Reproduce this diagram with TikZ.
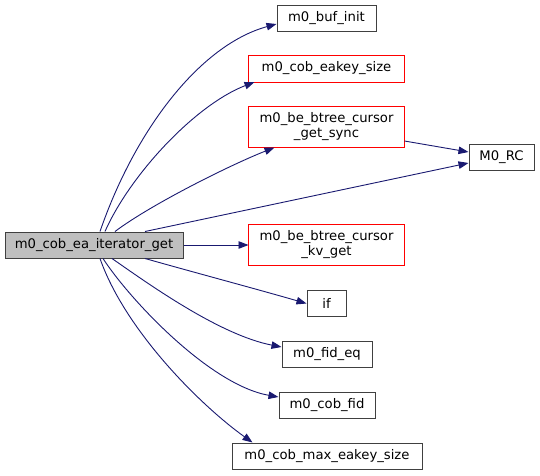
\documentclass[tikz,border=0pt]{standalone}
\usepackage{fontspec}
\setmainfont{DejaVu Sans}
\usetikzlibrary{arrows.meta}
\definecolor{edgeblue}{HTML}{191970}
\definecolor{boxred}{HTML}{FF0000}
\definecolor{boxgray}{HTML}{404040}
\definecolor{mainfill}{HTML}{BFBFBF}
\tikzset{
  fn/.style={draw=boxgray, line width=1pt, fill=white, inner sep=0pt, minimum height=26pt,
     font=\fontsize{13.2pt}{15pt}\selectfont, align=center},
  fnred/.style={fn, draw=none},
  redframe/.style={draw=boxred, line width=1pt},
  fnmain/.style={fn, fill=mainfill},
  call/.style={draw=edgeblue, line width=0.9pt, -{Triangle[length=10pt,width=7.5pt]}}
}
\begin{document}
\begin{tikzpicture}[x=1pt,y=-1pt]
\useasboundingbox (0,0) rectangle (540,475);
\node[fnmain, minimum width=178pt] (main) at (94,245) {m0\_cob\_ea\_iterator\_get};
\node[fn, minimum width=99pt] (bufinit) at (326.5,18) {m0\_buf\_init};
\node[fnred, minimum width=155pt] (eakey) at (326.5,68.5) {m0\_cob\_eakey\_size};
\node[fnred, minimum width=155pt, minimum height=40pt] (getsync) at (326.5,127) {m0\_be\_btree\_cursor\\\_get\_sync};
\node[fnred, minimum width=155pt, minimum height=40pt] (kvget) at (326.5,245) {m0\_be\_btree\_cursor\\\_kv\_get};
\node[fn, minimum width=39pt] (if) at (326.5,303.5) {if};
\node[fn, minimum width=90pt] (fideq) at (327,354) {m0\_fid\_eq};
\node[fn, minimum width=96pt] (cobfid) at (327,405) {m0\_cob\_fid};
\node[fn, minimum width=190pt] (maxeakey) at (327,456) {m0\_cob\_max\_eakey\_size};
\node[fn, minimum width=65pt] (rc) at (501.5,157) {M0\_RC};
\draw[redframe] (eakey.north west) rectangle (eakey.south east);
\draw[redframe] (getsync.north west) rectangle (getsync.south east);
\draw[redframe] (kvget.north west) rectangle (kvget.south east);

\draw[call] ([xshift=6pt]main.north) .. controls (135,130) and (200,45) .. ([yshift=-6pt]bufinit.west);
\draw[call] ([xshift=11pt]main.north) .. controls (130,175) and (195,105) .. ([xshift=6pt]eakey.south west);
\draw[call] ([xshift=21pt]main.north) .. controls (150,205) and (230,165) .. ([xshift=-52pt]getsync.south);
\draw[call] ([xshift=51pt]main.north) -- ([yshift=-6pt]rc.west);
\draw[call] ([yshift=-14pt]getsync.east) -- ([yshift=5pt]rc.west);
\draw[call] (main.east) -- (kvget.west);
\draw[call] ([xshift=51pt]main.south) .. controls (200,274) and (260,290) .. (if.west);
\draw[call] ([xshift=18pt]main.south) .. controls (150,285) and (220,335) .. ([yshift=7pt]fideq.west);
\draw[call] ([xshift=9pt]main.south) .. controls (130,300) and (210,385) .. ([yshift=8pt]cobfid.west);
\draw[call] ([xshift=6pt]main.south) .. controls (125,330) and (200,405) .. ([xshift=21pt]maxeakey.north west);
\end{tikzpicture}
\end{document}
